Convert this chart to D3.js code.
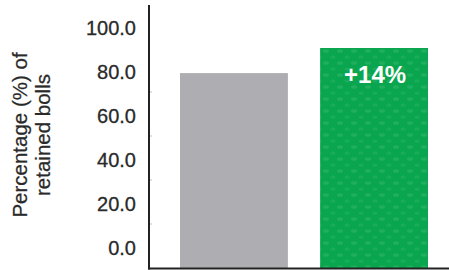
<!DOCTYPE html>
<html>
<head>
<meta charset="utf-8">
<script src="https://cdn.jsdelivr.net/npm/d3@7"></script>
<style>
  body { margin: 0; background: #fff; }
  text { font-family: "Liberation Sans", Arial, sans-serif; }
</style>
</head>
<body>
<script>
// data
var groups = ["Control", "Treated"];
var retained = [88.6, 100.0];
var barColors = ["#aeaeb2", "#0aa64f"];
var yTicks = [0, 20, 40, 60, 80, 100];
var barLabel = ["", "+14%"];

var W = 449, H = 270;

var svg = d3.select("body").append("svg")
    .attr("width", W)
    .attr("height", H);

// dotted texture for the green bar
var defs = svg.append("defs");
var pat = defs.append("pattern")
    .attr("id", "dots")
    .attr("patternUnits", "userSpaceOnUse")
    .attr("width", 14).attr("height", 12);
pat.append("rect").attr("width", 14).attr("height", 12).attr("fill", barColors[1]);
pat.append("ellipse").attr("cx", 4).attr("cy", 3).attr("rx", 3).attr("ry", 1.8)
    .attr("fill", "#fff").attr("opacity", 0.09);
pat.append("ellipse").attr("cx", 11).attr("cy", 9).attr("rx", 2.5).attr("ry", 1.6)
    .attr("fill", "#fff").attr("opacity", 0.07);

var axisX = 149, baseY = 268.5;

var y = d3.scaleLinear()
    .domain([0, 100])
    .range([268, 48]);

var x = d3.scaleBand()
    .domain(groups)
    .range([180, 428])
    .paddingInner(0.23)
    .paddingOuter(0);

// bars
svg.selectAll(".bar")
    .data(groups)
    .enter().append("rect")
    .attr("class", "bar")
    .attr("x", function(d) { return x(d); })
    .attr("width", x.bandwidth())
    .attr("y", function(d, i) { return y(retained[i]); })
    .attr("height", function(d, i) { return y(0) - y(retained[i]); })
    .attr("fill", function(d, i) { return i == 1 ? "url(#dots)" : barColors[i]; });

// label inside the green bar
svg.selectAll(".barLabel")
    .data(groups)
    .enter().append("text")
    .attr("x", function(d) { return x(d) + x.bandwidth() / 2 + 1; })
    .attr("y", function(d, i) { return y(retained[i]) + 35; })
    .attr("text-anchor", "middle")
    .attr("fill", "#fff")
    .attr("font-weight", "bold")
    .attr("font-size", "24px")
    .text(function(d, i) { return barLabel[i]; });

// faint tick marks
svg.selectAll(".tick")
    .data(yTicks.slice(1, 5))
    .enter().append("line")
    .attr("x1", axisX).attr("x2", axisX + 3)
    .attr("y1", function(d) { return y(d); })
    .attr("y2", function(d) { return y(d); })
    .attr("stroke", "#999").attr("stroke-width", 0.6);

// tick labels (sit half a step above their tick)
svg.selectAll(".tickLabel")
    .data(yTicks)
    .enter().append("text")
    .attr("x", 136)
    .attr("y", function(d) { return y(d) - 13; })
    .attr("text-anchor", "end")
    .attr("fill", "#2a2a2a")
    .attr("font-size", "20px")
    .attr("stroke", "#2a2a2a")
    .attr("stroke-width", 0.3)
    .text(function(d) { return d3.format(".1f")(d); });

// axis lines
svg.append("line")
    .attr("x1", axisX).attr("x2", axisX)
    .attr("y1", 5).attr("y2", baseY + 1)
    .attr("stroke", "#222").attr("stroke-width", 2);
svg.append("line")
    .attr("x1", axisX - 1).attr("x2", W)
    .attr("y1", baseY).attr("y2", baseY)
    .attr("stroke", "#222").attr("stroke-width", 2);

// y axis title
var title = svg.append("text")
    .attr("transform", "translate(27,135) rotate(-90)")
    .attr("text-anchor", "middle")
    .attr("fill", "#2a2a2a")
    .attr("font-size", "20.5px")
    .attr("stroke", "#2a2a2a")
    .attr("stroke-width", 0.25);
title.append("tspan").attr("x", 0).attr("dy", 0).text("Percentage (%) of");
title.append("tspan").attr("x", 0).attr("dy", 23).text("retained bolls");
</script>
</body>
</html>
